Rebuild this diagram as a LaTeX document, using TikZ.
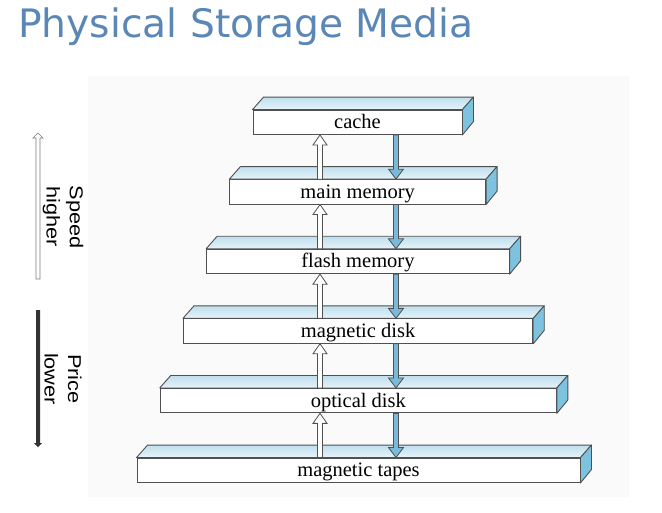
\documentclass[tikz,border=0pt]{standalone}
\usepackage{fontspec}
\setmainfont{Liberation Serif}
\newfontfamily\titlefont{DejaVu Sans}
\newfontfamily\sidefont[FakeStretch=1.17]{Liberation Sans}
\usetikzlibrary{calc}
\definecolor{titleblue}{HTML}{5B87B6}
\definecolor{edgegray}{HTML}{505050}
\definecolor{sideblue}{HTML}{7DC3E0}
\definecolor{topblue}{HTML}{BFDFED}
\definecolor{toplight}{HTML}{E6F3F9}
\definecolor{downblue}{HTML}{7AB9DA}
\definecolor{bggray}{HTML}{FAFAFA}
\definecolor{pricedark}{HTML}{333333}
\definecolor{speedgray}{HTML}{7A7A7A}

\newcommand\slabfaces[1]{%
  \path[topface] (#1.north west) -- ++(11,-12.5) -- ($(#1.north east)+(11,-12.5)$) -- (#1.north east) -- cycle;
  \path[sideface] (#1.north east) -- ++(11,-12.5) -- ++(0,24.5) -- (#1.south east) -- cycle;
}
\newcommand\linkarrows[2]{%
  \coordinate (ut) at (upx |- #1.south);
  \coordinate (ub) at (upx |- #2.north);
  \path[uparrowstyle] ($(ub)+(-2.5,0)$) -- ($(ut)+(-2.5,10)$) -- ($(ut)+(-7,10)$) -- (ut)
     -- ($(ut)+(7,10)$) -- ($(ut)+(2.5,10)$) -- ($(ub)+(2.5,0)$) -- cycle;
  \coordinate (dt) at (downx |- #2.north);
  \coordinate (db) at (downx |- #1.south);
  \path[downarrowstyle] ($(db)+(-2.5,0)$) -- ($(dt)+(-2.5,-10)$) -- ($(dt)+(-7.5,-10)$) -- (dt)
     -- ($(dt)+(7.5,-10)$) -- ($(dt)+(2.5,-10)$) -- ($(db)+(2.5,0)$) -- cycle;
}

\begin{document}
\begin{tikzpicture}[x=1pt,y=-1pt,
  frontface/.style={draw=edgegray, line width=0.9pt, fill=white, inner sep=0pt,
     minimum height=24.5pt, text height=15pt, text depth=2pt,
     font=\fontsize{20.5}{24}\selectfont},
  topface/.style={draw=edgegray, line width=0.9pt, top color=topblue, bottom color=toplight, line join=round},
  sideface/.style={draw=edgegray, line width=0.9pt, fill=sideblue, line join=round},
  uparrowstyle/.style={draw=edgegray, line width=0.8pt, fill=white, line join=miter},
  downarrowstyle/.style={draw=edgegray, line width=0.8pt, fill=downblue, line join=miter},
  sidetext/.style={rotate=-90, align=center, inner sep=0pt,
     font=\sidefont\fontsize{18.6}{23.3}\selectfont},
]
\useasboundingbox (0,0) rectangle (662,512);
\fill[bggray] (88,76) rectangle (629,497);

\node[anchor=base west, inner sep=0pt, text=titleblue,
      font=\titlefont\fontsize{39.2}{45}\selectfont] (title) at (18,37) {Physical Storage Media};

\coordinate (upx) at (320,0);
\coordinate (downx) at (396,0);

\node[frontface, minimum width=209pt]   (cache)   at (357.5,122.25) {cache};
\node[frontface, minimum width=255.8pt] (mainmem) at (357.7,191.85) {main memory};
\node[frontface, minimum width=302.6pt] (flash)   at (357.9,261.45) {flash memory};
\node[frontface, minimum width=349.4pt] (magdisk) at (358.1,331.05) {magnetic disk};
\node[frontface, minimum width=396.2pt] (optical) at (358.3,400.65) {optical disk};
\node[frontface, minimum width=443pt]   (tapes)   at (358.5,470.25) {magnetic tapes};

\slabfaces{cache}
\slabfaces{mainmem}
\slabfaces{flash}
\slabfaces{magdisk}
\slabfaces{optical}
\slabfaces{tapes}

\linkarrows{cache}{mainmem}
\linkarrows{mainmem}{flash}
\linkarrows{flash}{magdisk}
\linkarrows{magdisk}{optical}
\linkarrows{optical}{tapes}

% side indicators
\node[sidetext] (speedtxt) at (63,217) {Speed\\higher};
\node[sidetext] (pricetxt) at (63,379) {Price\\lower};

\coordinate (speedtail) at (38,279);
\coordinate (speedtip) at (38,133);
\path[draw=speedgray, line width=0.7pt, fill=white]
  ($(speedtail)+(-2,0)$) -- ($(speedtip)+(-2,5)$) -- ($(speedtip)+(-5,5)$) -- (speedtip)
  -- ($(speedtip)+(5,5)$) -- ($(speedtip)+(2,5)$) -- ($(speedtail)+(2,0)$) -- cycle;

\coordinate (pricetail) at (38,310);
\coordinate (pricetip) at (38,447);
\path[fill=pricedark]
  ($(pricetail)+(-2,0)$) -- ($(pricetip)+(-2,-4)$) -- ($(pricetip)+(-4,-4)$) -- (pricetip)
  -- ($(pricetip)+(4,-4)$) -- ($(pricetip)+(2,-4)$) -- ($(pricetail)+(2,0)$) -- cycle;
\end{tikzpicture}
\end{document}
